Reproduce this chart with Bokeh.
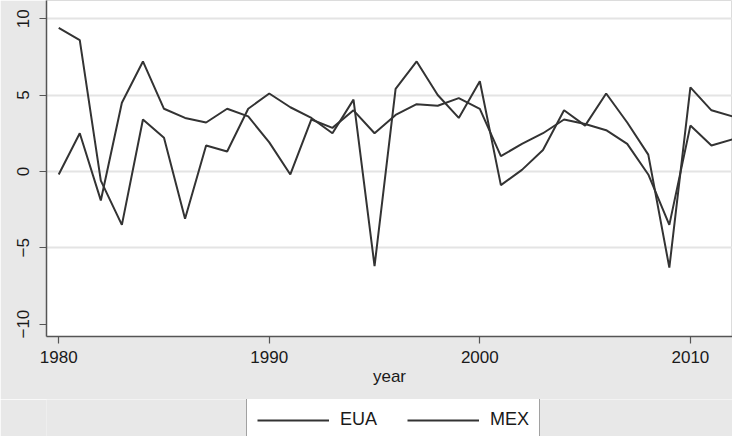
from bokeh.plotting import figure
from bokeh.layouts import column
from bokeh.models import FixedTicker, Legend, LegendItem, Range1d
from bokeh.embed import file_html
from bokeh.resources import INLINE

years = list(range(1980, 2013))
eua = [-0.2, 2.5, -1.9, 4.5, 7.2, 4.1, 3.5, 3.2, 4.1, 3.6, 1.9, -0.2, 3.4, 2.85, 4.0,
       2.5, 3.7, 4.4, 4.3, 4.8, 4.1, 1.0, 1.8, 2.5, 3.4, 3.1, 2.7, 1.8, -0.2, -3.5,
       3.0, 1.7, 2.1]
mex = [9.4, 8.6, -0.6, -3.5, 3.4, 2.2, -3.1, 1.7, 1.3, 4.1, 5.1, 4.2, 3.5, 2.5, 4.7,
       -6.2, 5.4, 7.2, 5.0, 3.5, 5.9, -0.9, 0.1, 1.4, 4.0, 3.0, 5.1, 3.2, 1.1, -6.3,
       5.5, 4.0, 3.6]
x_ticks = [1980, 1990, 2000, 2010]
y_ticks = [-10, -5, 0, 5, 10]
grid_ticks = [-5, 0, 5, 10]
series_names = ["EUA", "MEX"]
x_label = "year"

FONT = "Liberation Sans"
BG = "#e8e8e8"
LINE = "#333333"
TXT = "#1a1a1a"

# ---- main chart ----
p = figure(width=732, height=399, output_backend="svg", toolbar_location=None,
           x_range=Range1d(1979.42, 2012.0), y_range=Range1d(-10.81, 11.19),
           min_border_left=46, min_border_right=0, min_border_top=0,
           min_border_bottom=63)
p.background_fill_color = "white"
p.border_fill_color = BG
p.outline_line_color = "#dcdcdc"
p.outline_line_width = 1

p.line(years, eua, line_color=LINE, line_width=2)
p.line(years, mex, line_color=LINE, line_width=2)

p.xaxis.ticker = FixedTicker(ticks=x_ticks)
p.yaxis.ticker = FixedTicker(ticks=y_ticks)
p.xgrid.visible = False
p.ygrid.ticker = FixedTicker(ticks=grid_ticks)
p.ygrid.grid_line_color = "#e4e4e4"
p.ygrid.grid_line_width = 2

for ax in (p.xaxis, p.yaxis):
    ax.axis_line_color = "#555555"
    ax.axis_line_width = 1.5
    ax.major_tick_line_color = "#555555"
    ax.major_tick_line_width = 1.2
    ax.major_tick_out = 7
    ax.major_tick_in = 0
    ax.minor_tick_line_color = None
    ax.major_label_text_font = FONT
    ax.major_label_text_font_size = "17px"
    ax.major_label_text_color = TXT
    ax.axis_label_text_font = FONT
    ax.axis_label_text_font_style = "normal"
    ax.axis_label_text_font_size = "17px"
    ax.axis_label_text_color = TXT

p.yaxis.major_label_orientation = "vertical"
p.yaxis.major_label_standoff = 10
p.xaxis.major_label_standoff = 7
p.xaxis.axis_label = x_label
p.xaxis.axis_label_standoff = 1

# ---- legend strip (same series, legend only) ----
q = figure(width=732, height=37, output_backend="svg", toolbar_location=None,
           x_range=Range1d(0, 1), y_range=Range1d(0, 1),
           x_axis_location=None, y_axis_location=None,
           min_border_left=0, min_border_right=0, min_border_top=0,
           min_border_bottom=0)
q.grid.visible = False
q.outline_line_color = None
q.background_fill_color = BG
q.border_fill_color = BG
l1 = q.line(years, eua, line_color=LINE, line_width=2)
l2 = q.line(years, mex, line_color=LINE, line_width=2)

legend = Legend(items=[LegendItem(label=series_names[0], renderers=[l1]),
                       LegendItem(label=series_names[1], renderers=[l2])],
                orientation="horizontal", location=(200, -5))
legend.label_text_font = FONT
legend.label_text_font_size = "18px"
legend.label_text_color = TXT
legend.glyph_width = 72
legend.glyph_height = 20
legend.label_standoff = 11
legend.spacing = 30
legend.padding = 10
legend.margin = 0
legend.border_line_color = "#444444"
legend.border_line_width = 1
legend.background_fill_color = "white"
legend.background_fill_alpha = 1
q.add_layout(legend, "center")

layout = column(p, q, spacing=0)
open("out.html", "w").write(file_html(layout, INLINE))
